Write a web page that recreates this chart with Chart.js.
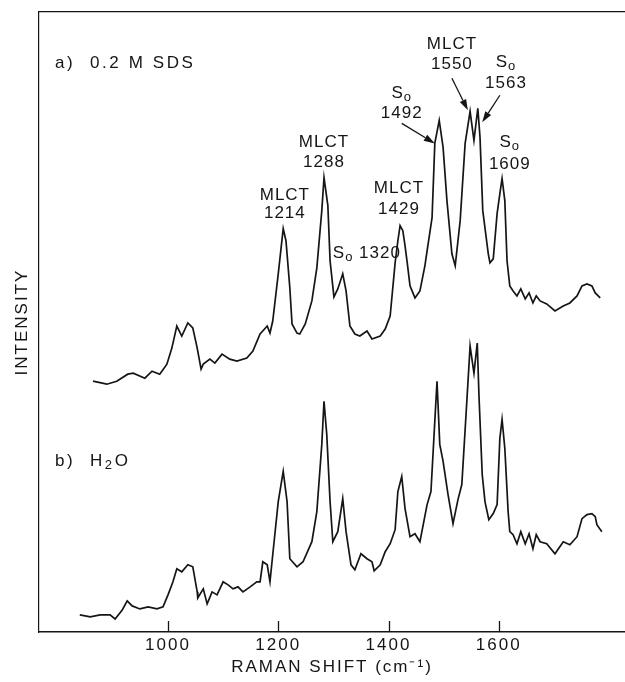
<!DOCTYPE html>
<html><head><meta charset="utf-8">
<script src="https://cdn.jsdelivr.net/npm/chart.js@4.4.1/dist/chart.umd.min.js"></script>
<style>html,body{margin:0;padding:0;background:#fff}canvas{display:block}</style>
</head><body>
<canvas id="c" width="625" height="682"></canvas>
<script>
// ---- data (Raman shift in cm-1, intensity in arbitrary units) ----
const xTicks = [1000, 1200, 1400, 1600];

const sdsShift = [864,889,907,927,937,958,971,985,998,1007,1016,1025,1036,1045,1053,1060,1064,1076,1085,1098,1112,1125,1143,1154,1167,1180,1185,1190,1200,1209,1214,1221,1225,1234,1239,1249,1261,1270,1279,1283,1290,1294,1301,1308,1317,1323,1330,1339,1348,1361,1370,1385,1394,1403,1412,1417,1421,1426,1430,1434,1439,1448,1457,1466,1470,1479,1484,1492,1499,1506,1515,1521,1530,1539,1548,1555,1562,1566,1571,1581,1584,1590,1597,1602,1606,1611,1615,1620,1626,1633,1640,1648,1655,1662,1668,1675,1687,1702,1717,1729,1742,1751,1760,1769,1775,1784];
const sdsInt   = [250,247,250,257,258,253,260,257,267,283,305,295,308,303,283,262,267,272,268,277,272,270,273,280,297,305,298,310,357,402,390,343,307,298,297,307,330,363,420,453,425,370,334,342,357,340,305,297,295,300,292,295,302,315,368,390,405,400,385,368,345,333,340,365,380,413,487,510,483,430,377,365,410,487,519,490,522,493,420,377,368,372,417,437,452,430,370,345,340,335,342,332,338,328,335,330,327,320,325,328,335,345,347,345,338,333];

const waterShift = [840,859,877,895,904,917,926,935,949,964,980,991,1000,1009,1016,1025,1036,1045,1053,1054,1064,1071,1080,1089,1100,1109,1118,1127,1136,1149,1161,1167,1172,1180,1185,1190,1200,1209,1216,1221,1234,1245,1261,1270,1279,1283,1288,1294,1299,1308,1317,1323,1332,1339,1350,1361,1370,1374,1385,1394,1403,1412,1417,1424,1430,1439,1448,1457,1470,1477,1484,1488,1493,1499,1508,1517,1526,1533,1541,1548,1555,1561,1564,1570,1575,1582,1590,1597,1602,1606,1611,1617,1620,1626,1633,1640,1648,1655,1662,1668,1675,1687,1702,1717,1729,1742,1751,1760,1769,1775,1778,1787];
const waterInt   = [17,15,17,17,13,22,31,26,23,25,23,25,37,50,63,60,67,65,40,34,43,28,40,37,50,47,43,45,40,45,50,50,70,67,50,77,130,160,130,73,65,70,90,120,187,230,197,130,90,100,133,100,67,62,78,73,70,61,67,80,88,102,140,155,123,95,98,90,127,140,210,250,187,170,137,108,132,147,220,285,258,288,237,157,130,112,118,127,193,212,183,120,100,97,88,100,88,98,83,97,90,88,78,90,87,95,113,117,118,115,107,100];

// ---- annotation texts (anchored in data units) ----
const S0 = [['S',0],['o',1]];
const labelTexts = [
  {x:795,  y:[567], lines:[[['a)  0.2 M SDS',0]]], align:'left', spacing:2.6},
  {x:795,  y:[170], lines:[[['b)  H',0],['2',1],['O',0]]], align:'left', spacing:2.6},
  {x:1212, y:[435,417], lines:[[['MLCT',0]],[['1214',0]]]},
  {x:1283, y:[488,468], lines:[[['MLCT',0]],[['1288',0]]]},
  {x:1299, y:[377], lines:[[['S',0],['o',1],[' 1320',0]]], align:'left'},
  {x:1419, y:[442,421], lines:[[['MLCT',0]],[['1429',0]]]},
  {x:1424, y:[537,517], lines:[S0,[['1492',0]]]},
  {x:1515, y:[586,566], lines:[[['MLCT',0]],[['1550',0]]]},
  {x:1613, y:[568,547], lines:[S0,[['1563',0]]]},
  {x:1620, y:[488,466], lines:[S0,[['1609',0]]]}
];
const arrows = [
  {from:[1424,507], to:[1484,487]},
  {from:[1515,552], to:[1544,520]},
  {from:[1602,535], to:[1570,508]}
];

const ink = '#151515';
const FONT = '"Liberation Sans", Arial, sans-serif';

const spacingPlugin = {
  id:'spacing',
  beforeInit(chart){ chart.ctx.letterSpacing = '2px'; },
  beforeUpdate(chart){ chart.ctx.letterSpacing = '2px'; },
  beforeDraw(chart){
    const c = chart.ctx; c.save(); c.fillStyle='#fff'; c.fillRect(0,0,chart.width,chart.height); c.restore();
    c.letterSpacing = '2px';
  }
};

const tickPlugin = {
  id:'innerTicks',
  afterDraw(chart){
    const c = chart.ctx, xs = chart.scales.x, a = chart.chartArea;
    c.save(); c.strokeStyle = ink; c.lineWidth = 1.3;
    xTicks.forEach(v=>{
      const px = Math.round(xs.getPixelForValue(v)) + 0.5;
      c.beginPath(); c.moveTo(px, a.bottom); c.lineTo(px, a.bottom - 11); c.stroke();
    });
    c.restore();
  }
};

function drawRich(c, segs, x, y, align, spacing){
  const big = '17px ' + FONT, small = '13px ' + FONT;
  c.letterSpacing = spacing + 'px';
  let w = 0;
  segs.forEach(([t,s])=>{ c.font = s ? small : big; w += c.measureText(t).width; });
  let cx = align === 'left' ? x : x - w/2;
  c.textBaseline = 'middle'; c.textAlign = 'left';
  segs.forEach(([t,s])=>{
    c.font = s ? small : big;
    c.fillText(t, cx, s ? y + 4 : y);
    cx += c.measureText(t).width;
  });
}

const annotationPlugin = {
  id:'annot',
  afterDatasetsDraw(chart){
    const c = chart.ctx, xs = chart.scales.x, ys = chart.scales.y;
    c.save(); c.fillStyle = ink; c.strokeStyle = ink;
    labelTexts.forEach(l=>{
      l.lines.forEach((segs,i)=>{
        drawRich(c, segs, xs.getPixelForValue(l.x), ys.getPixelForValue(l.y[i]), l.align||'center', l.spacing==null?1:l.spacing);
      });
    });
    arrows.forEach(ar=>{
      const x1 = xs.getPixelForValue(ar.from[0]), y1 = ys.getPixelForValue(ar.from[1]);
      const x2 = xs.getPixelForValue(ar.to[0]),   y2 = ys.getPixelForValue(ar.to[1]);
      const ang = Math.atan2(y2-y1, x2-x1), L = 11, W = 3.5;
      const bx = x2 - L*Math.cos(ang), by = y2 - L*Math.sin(ang);
      c.lineWidth = 1.3;
      c.beginPath(); c.moveTo(x1,y1); c.lineTo(bx,by); c.stroke();
      c.beginPath(); c.moveTo(x2,y2);
      c.lineTo(bx + W*Math.sin(ang), by - W*Math.cos(ang));
      c.lineTo(bx - W*Math.sin(ang), by + W*Math.cos(ang));
      c.closePath(); c.fill();
    });
    c.restore();
  }
};

const toPts = (xs, ys) => xs.map((v,i)=>({x:v, y:ys[i]}));

new Chart(document.getElementById('c'), {
  type:'line',
  data:{ datasets:[
    {label:'a) 0.2 M SDS', data:toPts(sdsShift, sdsInt), borderColor:ink, borderWidth:1.7, pointRadius:0, tension:0, fill:false},
    {label:'b) H2O', data:toPts(waterShift, waterInt), borderColor:ink, borderWidth:1.7, pointRadius:0, tension:0, fill:false}
  ]},
  options:{
    responsive:false, animation:false, devicePixelRatio:1,
    layout:{padding:{top:12, right:0, bottom:0, left:0}},
    plugins:{legend:{display:false}, tooltip:{enabled:false}},
    scales:{
      x:{type:'linear', position:'bottom', min:766, max:1829,
         afterBuildTicks(s){ s.ticks = xTicks.map(v=>({value:v})); },
         ticks:{color:ink, padding:3, font:{family:FONT, size:17, lineHeight:1.2}, maxRotation:0, autoSkip:false, callback:v=>String(v)},
         grid:{display:true, drawOnChartArea:false, drawTicks:false},
         border:{display:true, color:ink, width:1.5},
         title:{display:true, text:'RAMAN SHIFT (cm⁻¹)', color:ink, font:{family:FONT, size:17, lineHeight:1.2}, padding:{top:-1.6, bottom:4.8}}
      },
      x2:{type:'linear', axis:'x', position:'top', min:766, max:1829,
         ticks:{display:false}, grid:{display:false, drawTicks:false},
         border:{display:true, color:ink, width:1.3}
      },
      y:{type:'linear', position:'left', min:0, max:618,
         ticks:{display:false}, grid:{display:false, drawTicks:false},
         border:{display:true, color:ink, width:1.2},
         title:{display:true, text:'INTENSITY', color:ink, font:{family:FONT, size:17, lineHeight:1.2}, padding:{top:12, bottom:6.6}}
      }
    }
  },
  plugins:[spacingPlugin, tickPlugin, annotationPlugin]
});
</script>
</body></html>
